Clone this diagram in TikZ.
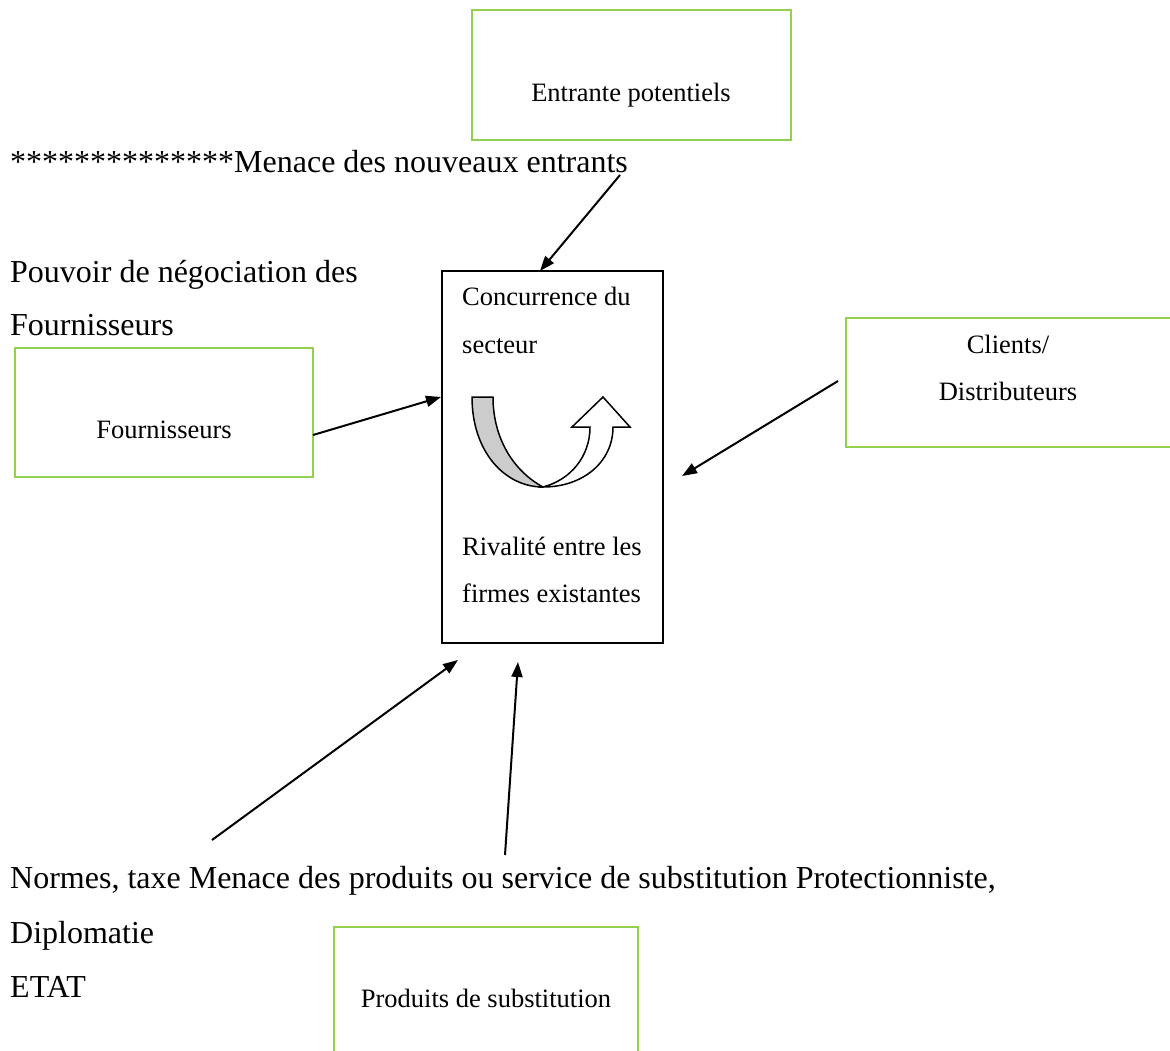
\documentclass[tikz,border=0pt]{standalone}
\usepackage{fontspec}
\setmainfont{Liberation Serif}
\usetikzlibrary{arrows.meta}
\definecolor{boxgreen}{RGB}{146,208,80}
\tikzset{
  big/.style={font=\fontsize{32}{38}\selectfont, inner sep=0pt, anchor=base west},
  small/.style={font=\fontsize{26.5}{32}\selectfont, inner sep=0pt},
  greenbox/.style={draw=boxgreen, line width=2pt, inner sep=0pt},
  arr/.style={line width=2pt, -{Triangle[length=15pt,width=11pt]}},
}
\begin{document}
\begin{tikzpicture}[x=1pt,y=-1pt]
\useasboundingbox (0,0) rectangle (1170,1050);
% green boxes
\draw[greenbox] (472,10) rectangle (791,140);
\node[small, anchor=base] (entr) at (631,101) {Entrante potentiels};
\draw[greenbox] (15,348) rectangle (313,477);
\node[small, anchor=base] (fourn) at (164,438) {Fournisseurs};
\draw[greenbox] (1175,318) -- (846,318) -- (846,447) -- (1175,447);
\node[small, anchor=base] (cli1) at (1008,353) {Clients/};
\node[small, anchor=base] (cli2) at (1008,400) {Distributeurs};
\draw[greenbox] (334,1060) -- (334,927) -- (638,927) -- (638,1060);
\node[small, anchor=base] (prod) at (486,1007) {Produits de substitution};
% central box
\draw[line width=1.5pt] (442,271) rectangle (663,643);
\node[small, anchor=base west] (c1) at (462,305) {Concurrence du};
\node[small, anchor=base west] (c2) at (462,353) {secteur};
\node[small, anchor=base west] (c3) at (462,555) {Rivalité entre les};
\node[small, anchor=base west] (c4) at (462,602) {firmes existantes};
% U-turn arrow
\draw[line width=1.5pt, fill=black!20, line join=round]
  (472,397) .. controls (472,452) and (505,487) .. (543,487)
  .. controls (515,472) and (493,440) .. (493,397) -- cycle;
\draw[line width=1.5pt, fill=white, line join=miter]
  (543,487) .. controls (583,487) and (613,462) .. (613,427)
  -- (630,427) -- (603,397) -- (572,427) -- (590,427)
  .. controls (590,457) and (570,480) .. (543,487) -- cycle;
% texts
\node[big] (menace) at (10,172) {**************Menace des nouveaux entrants};
\node[big] (pouv) at (10,282) {Pouvoir de négociation des};
\node[big] (fourt) at (10,335) {Fournisseurs};
\node[big] (normes) at (10,888) {Normes, taxe Menace des produits ou service de substitution Protectionniste,};
\node[big] (dipl) at (10,943) {Diplomatie};
\node[big] (etat) at (10,997) {ETAT};
% arrow ends
\coordinate (a1s) at (620,175); \coordinate (a1e) at (540,271);
\coordinate (a2s) at (313,435); \coordinate (a2e) at (441,397);
\coordinate (a3s) at (838,381); \coordinate (a3e) at (682,476);
\coordinate (a4s) at (212,840); \coordinate (a4e) at (458,660);
\coordinate (a5s) at (505,855); \coordinate (a5e) at (518,662);
\draw[arr] (a1s) -- (a1e);
\draw[arr] (a2s) -- (a2e);
\draw[arr] (a3s) -- (a3e);
\draw[arr] (a4s) -- (a4e);
\draw[arr] (a5s) -- (a5e);
\end{tikzpicture}
\end{document}
